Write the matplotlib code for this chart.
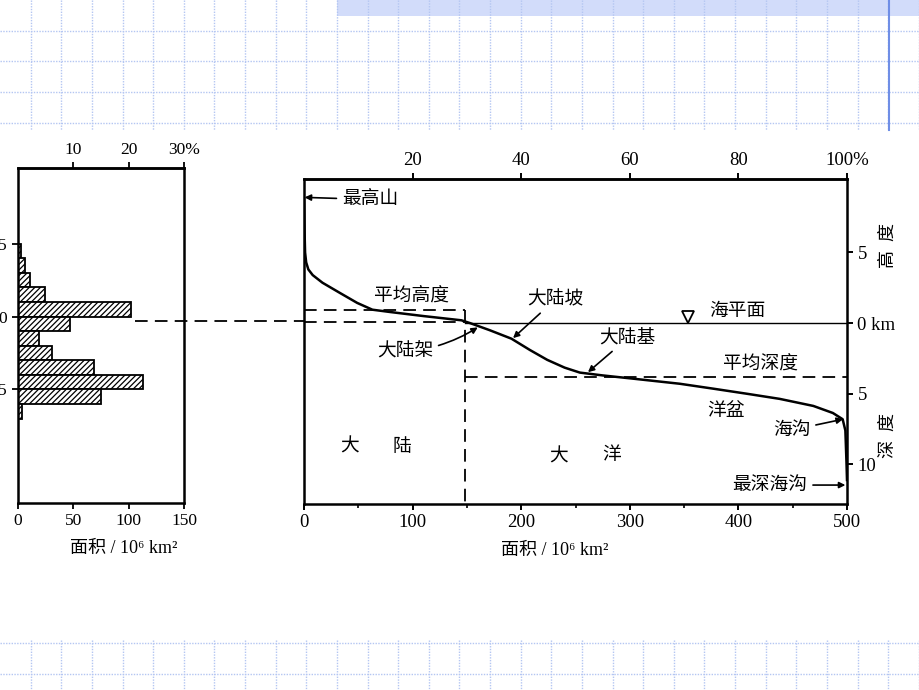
import numpy as np
import matplotlib.pyplot as plt
from matplotlib.lines import Line2D
from matplotlib.patches import Rectangle

plt.rcParams['font.family'] = ['Liberation Serif', 'Noto Sans CJK SC']
plt.rcParams['hatch.linewidth'] = 0.9

# histogram of surface area per 1 km height band (10^6 km^2)
band_top = [5, 4, 3, 2, 1, 0, -1, -2, -3, -4, -5, -6]
band_area = [3, 6.3, 10.5, 24.7, 102, 47, 19, 31, 68.5, 113, 75, 4]

# hypsometric curve: cumulative area (10^6 km^2) vs height (km)
curve_area = [0, 0.5, 1.0, 2.0, 4, 8, 17, 33, 49, 63, 79, 110, 145, 153, 171, 191, 208,
              224, 240, 254, 275, 303, 346, 377, 408, 438, 469, 487, 496, 498.5, 499.5, 500]
curve_h = [8.85, 6.5, 5.0, 4.3, 3.8, 3.4, 2.86, 2.14, 1.43, 0.95, 0.79, 0.5, 0.2, 0.0, -0.5,
           -1.1, -1.9, -2.6, -3.15, -3.5, -3.7, -3.93, -4.29, -4.64, -5.0, -5.36, -5.86,
           -6.36, -6.8, -7.6, -9.8, -11.1]

land_area = 148
mean_height = 0.9
mean_depth = -3.8

W, H = 920, 690
fig = plt.figure(figsize=(9.2, 6.9), dpi=100)

# slide background: dotted grid, top band
grid_c = '#b4c6f2'
step = 30.63
for k in range(1, 31):
    x = k * step / W
    fig.add_artist(Line2D([x, x], [1, 1 - 130 / H], color=grid_c, lw=1, ls=(0, (1, 1))))
    fig.add_artist(Line2D([x, x], [1 - 640 / H, 0], color=grid_c, lw=1, ls=(0, (1, 1))))
for k in range(1, 23):
    y = k * step
    if y < 130 or y > 635:
        fig.add_artist(Line2D([0, 1], [1 - y / H] * 2, color=grid_c, lw=1, ls=(0, (1, 1))))
fig.add_artist(Rectangle((337 / W, 1 - 16 / H), (W - 337) / W, 16 / H,
                         transform=fig.transFigure, color='#d2dcfa', lw=0))
fig.add_artist(Line2D([889 / W] * 2, [1, 1 - 130 / H], color='#6f8ee6', lw=1.5))

ylim = (-12.8, 10.2)

# ---- left panel: histogram
ax1 = fig.add_axes([18 / W, 1 - 503 / H, 166 / W, 335 / H])
centers = [t - 0.5 for t in band_top]
ax1.barh(centers, band_area, height=1, facecolor='white', edgecolor='black',
         hatch='//////', lw=1.3)
ax1.set_xlim(0, 150)
ax1.set_ylim(*ylim)
ax1.set_xticks([0, 50, 100, 150])
ax1.set_yticks([5, 0, -5], ['5', '0', '5'])
ax1.tick_params(labelsize=12.5, length=4, width=1.3, direction='out')
ax1.tick_params(axis='y', pad=4)
sec1 = ax1.secondary_xaxis('top', functions=(lambda a: a / 5, lambda p: p * 5))
sec1.set_xticks([10, 20, 30], ['10', '20', '30%'])
sec1.tick_params(labelsize=12.5, length=4, width=1.3)
for s in ax1.spines.values():
    s.set_linewidth(1.8)
for s in sec1.spines.values():
    s.set_linewidth(1.8)
fig.text(124 / W, 1 - 549 / H, '面积 / 10⁶ km²', ha='center', va='center', fontsize=13)

# ---- right panel: hypsometric curve
ax2 = fig.add_axes([304 / W, 1 - 504 / H, 543 / W, 325 / H])
ax2.set_xlim(0, 500)
ax2.set_ylim(*ylim)
ax2.plot(curve_area, curve_h, color='black', lw=1.8)

dash = dict(color='black', lw=1.3, dashes=(7, 4))
ax2.plot([0, land_area], [mean_height, mean_height], **dash)
ax2.plot([0, land_area], [0.1, 0.1], **dash)
ax2.plot([land_area, land_area], [mean_height, ylim[0]], **dash)
ax2.plot([land_area, 500], [mean_depth, mean_depth], **dash)
ax2.plot([land_area, 500], [0, 0], color='black', lw=1)
ax2.plot([353.6], [0.4], marker='v', ms=8, mfc='white', mec='black', mew=1.3)

ax2.set_xticks([0, 100, 200, 300, 400, 500])
ax2.set_xticks([50, 150, 250, 350, 450], minor=True)
ax2.yaxis.tick_right()
ax2.set_yticks([5, 0, -5, -10], ['5', '0 km', '5', '10'])
ax2.tick_params(labelsize=13.5, length=4, width=1.4, direction='out')
ax2.tick_params(which='minor', length=3, width=1.2)
sec2 = ax2.secondary_xaxis('top', functions=(lambda a: a / 5, lambda p: p * 5))
sec2.set_xticks([20, 40, 60, 80, 100], ['20', '40', '60', '80', '100%'])
sec2.tick_params(labelsize=13.5, length=4, width=1.4)
for s in ax2.spines.values():
    s.set_linewidth(1.8)
for s in sec2.spines.values():
    s.set_linewidth(1.8)

fs = 13.5
arrow = dict(arrowstyle='-|>', color='black', lw=1.2, mutation_scale=9, shrinkB=0)
ax2.annotate('最高山', xy=(0.6, 8.9), xytext=(35, 8.75), ha='left', va='center',
             fontsize=fs, arrowprops=arrow)
ax2.text(99, 1.95, '平均高度', ha='center', va='center', fontsize=fs)
ax2.annotate('大陆坡', xy=(192.5, -1.06), xytext=(231, 1.65), ha='center', va='center',
             fontsize=fs, arrowprops=dict(arrow, shrinkA=2))
ax2.text(399, 0.85, '海平面', ha='center', va='center', fontsize=fs)
ax2.annotate('大陆架', xy=(160, -0.3), xytext=(93, -2.05), ha='center', va='center',
             fontsize=fs, arrowprops=dict(arrow, connectionstyle='arc3,rad=0.12'))
ax2.annotate('大陆基', xy=(261.5, -3.47), xytext=(298, -1.06), ha='center', va='center',
             fontsize=fs, arrowprops=dict(arrow, shrinkA=2))
ax2.text(420, -2.97, '平均深度', ha='center', va='center', fontsize=fs)
ax2.text(388.6, -6.23, '洋盆', ha='center', va='center', fontsize=fs)
ax2.annotate('海沟', xy=(496.3, -6.8), xytext=(449, -7.57), ha='center', va='center',
             fontsize=fs, arrowprops=arrow)
ax2.annotate('最深海沟', xy=(498.5, -11.46), xytext=(429, -11.46), ha='center', va='center',
             fontsize=fs, arrowprops=arrow)
ax2.text(42.4, -8.78, '大', ha='center', va='center', fontsize=fs)
ax2.text(90.2, -8.78, '陆', ha='center', va='center', fontsize=fs)
ax2.text(234, -9.48, '大', ha='center', va='center', fontsize=fs)
ax2.text(283.6, -9.34, '洋', ha='center', va='center', fontsize=fs)

fig.text(888 / W, 1 - 245 / H, '高  度', rotation=90, ha='center', va='center', fontsize=13)
fig.text(888 / W, 1 - 435 / H, '深  度', rotation=90, ha='center', va='center', fontsize=13)
fig.text(555 / W, 1 - 550 / H, '面积 / 10⁶ km²', ha='center', va='center', fontsize=13)

# dashed sea-level line between the two panels
x0 = (18 + 106 * 166 / 150) / W
fig.add_artist(Line2D([x0, 304 / W], [1 - 321 / H] * 2, color='black', lw=1.3,
                      dashes=(7, 4)))

fig.savefig('out.png', dpi=100)
